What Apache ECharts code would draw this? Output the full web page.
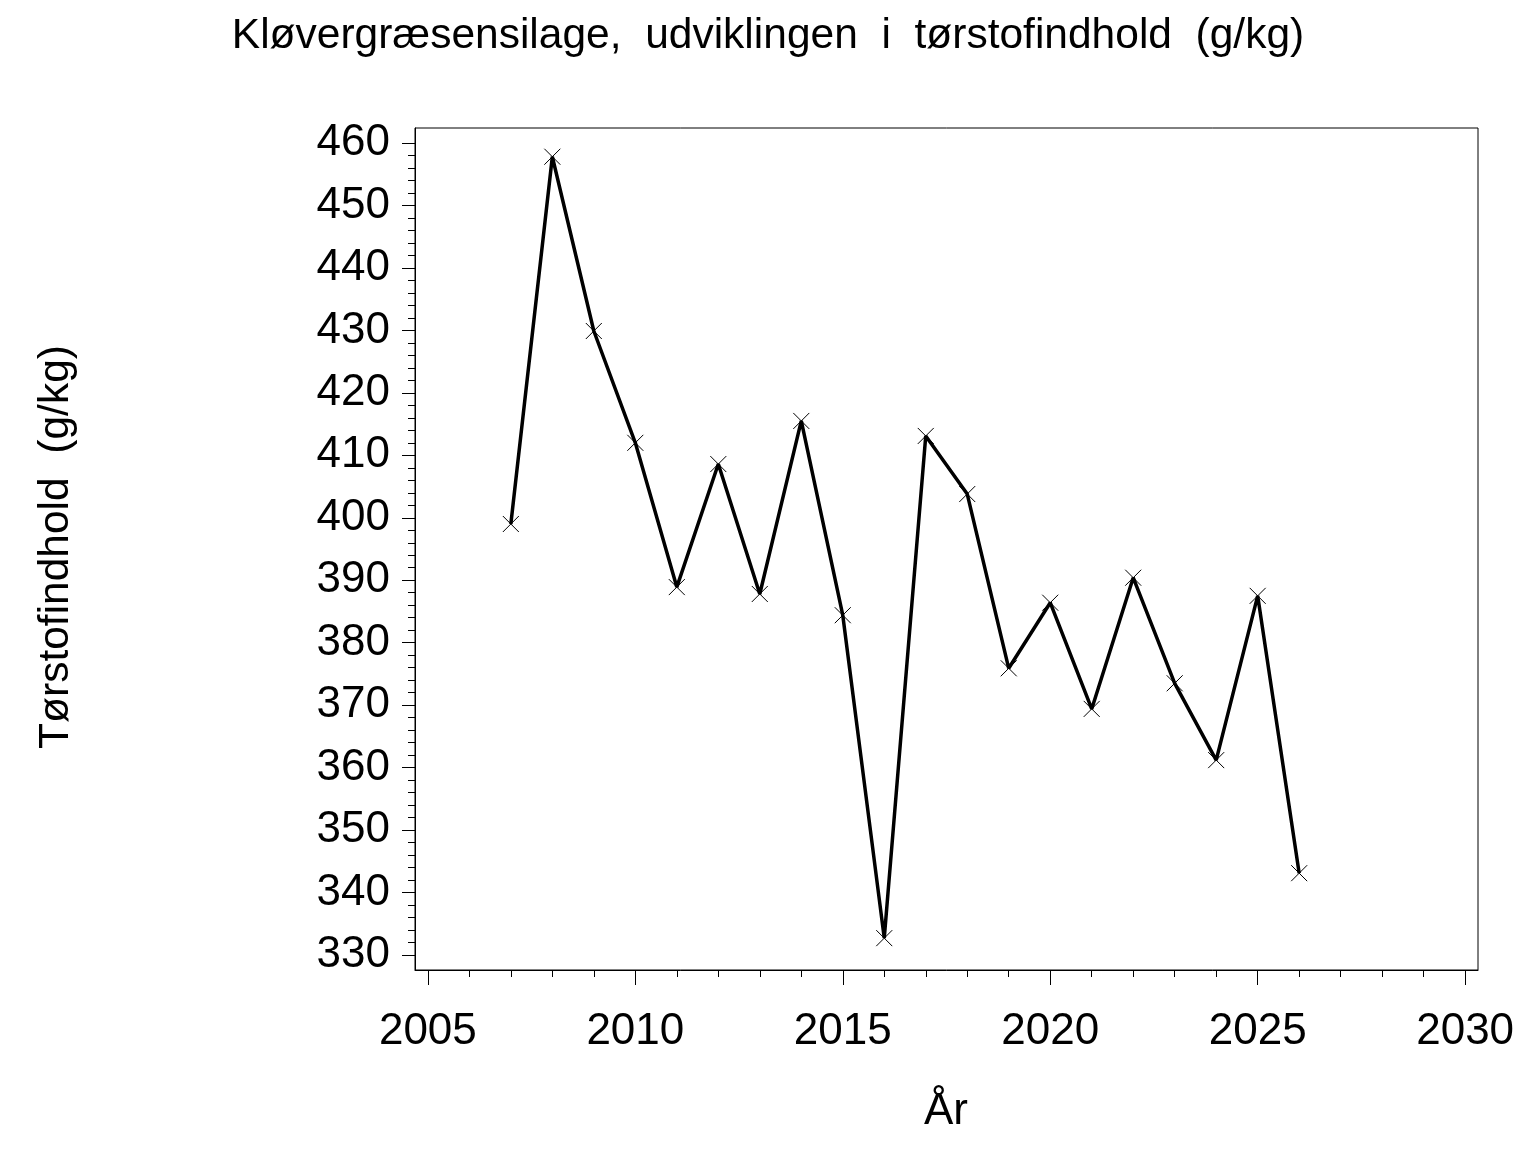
<!DOCTYPE html>
<html><head><meta charset="utf-8">
<script src="https://cdn.jsdelivr.net/npm/echarts@6/dist/echarts.min.js"></script>
<style>html,body{margin:0;padding:0;background:#fff}#c{width:1536px;height:1152px}</style>
</head><body><div id="c"></div>
<script>
const years = [2007,2008,2009,2010,2011,2012,2013,2014,2015,2016,2017,2018,2019,2020,2021,2022,2023,2024,2025,2026];
const values = [399.0,457.8,429.9,412.0,388.9,408.6,387.8,415.5,384.4,332.7,413.1,403.8,375.9,386.4,369.4,390.4,373.5,361.2,387.5,343.1];
const yMajor = [330,340,350,360,370,380,390,400,410,420,430,440,450,460];
const yMinor = [];
for (let v = 330; v <= 460; v += 2) yMinor.push(v);
const xMajor = [2005,2010,2015,2020,2025,2030];
const xMinor = [];
for (let v = 2005; v <= 2030; v += 1) xMinor.push(v);
const titleText = 'Kløvergræsensilage,  udviklingen  i  tørstofindhold  (g/kg)';
const yName = 'Tørstofindhold  (g/kg)';
const xName = 'År';

const FONT = "'Liberation Sans', Arial, sans-serif";
const chart = echarts.init(document.getElementById('c'), null, {renderer: 'canvas'});
const xMin = 2004.69, xMax = 2030.31, yMin = 327.6, yMax = 462.4;
const baseX = {type:'value', min:xMin, max:xMax, splitLine:{show:false}, position:'bottom'};
const baseY = {type:'value', min:yMin, max:yMax, splitLine:{show:false}, position:'left'};
chart.setOption({
  animation:false,
  backgroundColor:'#fff',
  title:{text:titleText, left:'center', top:10, textStyle:{fontFamily:FONT, fontSize:42.5, fontWeight:'normal', color:'#000'}},
  grid:{left:415, top:128, width:1063, height:842, show:true, borderColor:'#000', borderWidth:1, backgroundColor:'transparent'},
  xAxis:[
    Object.assign({}, baseX, {
      axisLine:{show:true, lineStyle:{color:'#000', width:1}},
      axisTick:{show:true, length:15, customValues:xMajor, lineStyle:{color:'#000', width:1}},
      axisLabel:{show:true, customValues:xMajor, margin:40, fontFamily:FONT, fontSize:44, color:'#000', formatter:v=>String(Math.round(v))}
    }),
    Object.assign({}, baseX, {
      axisLine:{show:false},
      axisTick:{show:true, length:7, customValues:xMinor, lineStyle:{color:'#000', width:1}},
      axisLabel:{show:false}
    })
  ],
  yAxis:[
    Object.assign({}, baseY, {
      axisLine:{show:true, lineStyle:{color:'#000', width:1}},
      axisTick:{show:true, length:13, customValues:yMajor, lineStyle:{color:'#000', width:1}},
      axisLabel:{show:true, customValues:yMajor, margin:25, fontFamily:FONT, fontSize:44, color:'#000', formatter:v=>String(Math.round(v))}
    }),
    Object.assign({}, baseY, {
      axisLine:{show:false},
      axisTick:{show:true, length:7, customValues:yMinor, lineStyle:{color:'#000', width:1}},
      axisLabel:{show:false}
    })
  ],
  graphic:[
    {type:'text', x:946, y:1112, style:{text:xName, font:"44px 'Liberation Sans', Arial, sans-serif", fill:'#000', textAlign:'center', textVerticalAlign:'middle'}},
    {type:'text', x:56, y:547, rotation:Math.PI/2, style:{text:yName, font:"42.5px 'Liberation Sans', Arial, sans-serif", fill:'#000', textAlign:'center', textVerticalAlign:'middle'}}
  ],
  series:[{
    type:'line',
    xAxisIndex:0, yAxisIndex:0,
    data: years.map((y,i)=>[y, values[i]]),
    symbol:'path://M0,0L10,10M10,0L0,10',
    symbolSize:16,
    showAllSymbol:true,
    lineStyle:{color:'#000', width:3.5},
    itemStyle:{color:'none', borderColor:'#000', borderWidth:1},
    z:3
  }]
});
</script></body></html>
